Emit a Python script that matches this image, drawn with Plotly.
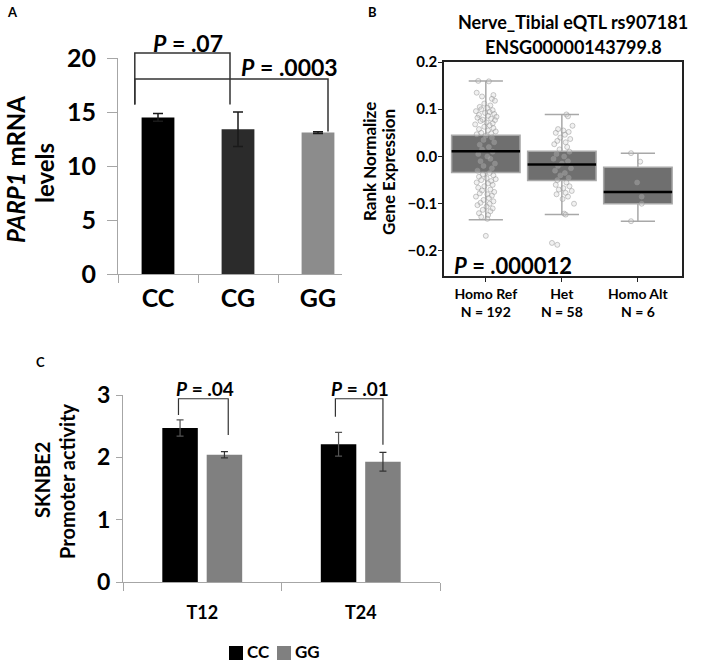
import plotly.graph_objects as go

W, H = 709, 663
FONT = "Lato, Open Sans, sans-serif"

# ---------------- Panel A data ----------------
a_categories = ["CC", "CG", "GG"]
a_values = [14.5, 13.4, 13.1]
a_errors = [0.35, 1.6, 0.08]
a_colors = ["#000000", "#2b2b2b", "#8c8c8c"]
a_yticks = [0, 5, 10, 15, 20]

# ---------------- Panel B data ----------------
b_groups = ["Homo Ref<br>N = 192", "Het<br>N = 58", "Homo Alt<br>N = 6"]
b_q1 = [-0.034, -0.051, -0.100]
b_median = [0.011, -0.017, -0.075]
b_q3 = [0.045, 0.011, -0.023]
b_lower = [-0.134, -0.123, -0.137]
b_upper = [0.160, 0.089, 0.007]
b_yticks = [-0.2, -0.1, 0.0, 0.1, 0.2]
b_yticktext = ["\u22120.2", "\u22120.1", "0.0", "0.1", "0.2"]

ref_y = [0.160, 0.159, 0.135, 0.130, 0.127, 0.122, 0.118, 0.112, 0.108, 0.105,
         0.103, 0.100, 0.098, 0.096, 0.094, 0.092, 0.090, 0.088, 0.086, 0.084,
         0.082, 0.080, 0.078, 0.077, 0.075, 0.072, 0.070, 0.068, 0.066, 0.063,
         0.060, 0.058, 0.055, 0.053, 0.050, 0.049, 0.047, 0.044, 0.040, 0.035,
         0.030, 0.025, 0.020, 0.015, 0.010, 0.005, 0.000, -0.005, -0.010, -0.015,
         -0.020, -0.025, -0.030, -0.035, -0.038, -0.040, -0.043, -0.046, -0.048, -0.050,
         -0.052, -0.055, -0.057, -0.060, -0.063, -0.066, -0.070, -0.072, -0.075, -0.078,
         -0.080, -0.083, -0.085, -0.088, -0.092, -0.095, -0.098, -0.100, -0.103, -0.106,
         -0.110, -0.113, -0.116, -0.120, -0.124, -0.128, -0.132, -0.168]
ref_dx = [-0.10, 0.04, -0.12, 0.10, -0.05, 0.08, 0.12, -0.02, 0.06, -0.08,
          0.02, -0.06, 0.09, -0.13, 0.05, -0.01, 0.11, -0.09, 0.03, 0.14,
          -0.11, 0.07, -0.04, 0.12, -0.07, 0.01, 0.09, -0.14, 0.05, -0.02,
          0.10, -0.09, 0.03, 0.13, -0.06, 0.07, -0.12, 0.00, 0.08, -0.03,
          0.11, -0.08, 0.04, -0.05, 0.09, -0.10, 0.02, 0.06, -0.07, 0.12,
          -0.03, 0.08, -0.11, 0.05, -0.04, 0.10, -0.09, 0.01, 0.13, -0.06,
          0.07, -0.12, 0.03, 0.09, -0.02, -0.10, 0.06, -0.05, 0.11, -0.08,
          0.02, 0.08, -0.13, 0.04, -0.03, 0.10, -0.07, 0.05, -0.11, 0.01,
          0.09, -0.04, 0.06, -0.09, 0.03, -0.06, 0.02, 0.00]
het_y = [0.089, 0.085, 0.065, 0.058, 0.055, 0.052, 0.050, 0.046, 0.040, 0.037,
         0.033, 0.030, 0.026, 0.020, 0.015, 0.010, 0.005, 0.000, -0.005, -0.010,
         -0.015, -0.020, -0.025, -0.030, -0.035, -0.040, -0.045, -0.050, -0.055, -0.060,
         -0.063, -0.067, -0.070, -0.073, -0.077, -0.080, -0.085, -0.090, -0.100, -0.121,
         -0.123, -0.183, -0.187]
het_dx = [0.06, 0.08, 0.14, -0.05, 0.02, 0.09, -0.08, 0.04, -0.02, 0.11,
          -0.06, 0.05, -0.10, 0.07, -0.03, 0.10, -0.07, 0.03, -0.11, 0.08,
          0.00, -0.05, 0.12, -0.09, 0.04, -0.02, 0.09, -0.06, 0.06, -0.08,
          0.10, 0.02, -0.04, 0.13, 0.05, -0.07, 0.08, 0.01, 0.16, 0.03,
          0.05, -0.13, -0.06]
alt_y = [0.007, -0.011, -0.055, -0.085, -0.100, -0.137]
alt_dx = [-0.09, 0.03, -0.01, 0.05, 0.05, -0.09]

# ---------------- Panel C data ----------------
c_categories = ["T12", "T24"]
c_series = ["CC", "GG"]
c_colors = ["#000000", "#808080"]
c_cc = [2.47, 2.21]
c_cc_err = [0.13, 0.19]
c_gg = [2.04, 1.93]
c_gg_err = [0.05, 0.15]
c_yticks = [0, 1, 2, 3]

# ---------------- axes geometry ----------------
def px_x(p):
    return p / W

def px_y(p):
    return 1 - p / H

A_XDOM = [px_x(118), px_x(342)]
A_YDOM = [px_y(274), px_y(58)]
A_XR = [-0.5, 2.3]
A_YR = [0, 20]
B_XDOM = [px_x(444), px_x(682)]
B_YDOM = [px_y(276), px_y(62)]
B_XR = [-0.55, 2.58]
B_YR = [-0.253, 0.2]
C_XDOM = [px_x(123), px_x(440)]
C_YDOM = [px_y(582), px_y(395)]
C_XR = [-0.5, 1.5]
C_YR = [0, 3]


def to_paper(dom, rng, v):
    return dom[0] + (v - rng[0]) / (rng[1] - rng[0]) * (dom[1] - dom[0])


fig = go.Figure()

fig.add_trace(go.Bar(
    x=a_categories, y=a_values, width=0.41,
    marker=dict(color=a_colors, line=dict(width=0)),
    error_y=dict(type="data", array=a_errors, color="#1a1a1a", thickness=1.5, width=5),
    xaxis="x", yaxis="y", showlegend=False))

for i in range(3):
    fig.add_trace(go.Box(
        x=[i], q1=[b_q1[i]], median=[b_median[i]], q3=[b_q3[i]],
        lowerfence=[b_lower[i]], upperfence=[b_upper[i]],
        orientation="v", width=0.9, whiskerwidth=0.5,
        fillcolor="#6f6f6f", line=dict(color="#a8a8a8", width=1.5),
        boxpoints=False, xaxis="x2", yaxis="y2", showlegend=False,
        hoverinfo="skip"))

pts_x = ([0 + d for d in ref_dx] + [1 + d for d in het_dx] + [2 + d for d in alt_dx])
pts_y = ref_y + het_y + alt_y
fig.add_trace(go.Scatter(
    x=pts_x, y=pts_y, mode="markers",
    marker=dict(size=5, color="rgba(210,210,210,0.3)",
                line=dict(color="rgba(150,150,150,0.5)", width=1)),
    xaxis="x2", yaxis="y2", showlegend=False, hoverinfo="skip"))

for i in range(3):
    fig.add_trace(go.Scatter(
        x=[i - 0.45, i + 0.45], y=[b_median[i], b_median[i]], mode="lines",
        line=dict(color="#000000", width=2.5),
        xaxis="x2", yaxis="y2", showlegend=False, hoverinfo="skip"))

fig.add_trace(go.Bar(
    name=c_series[0], x=c_categories, y=c_cc, marker=dict(color=c_colors[0], line=dict(width=0)),
    error_y=dict(type="data", array=c_cc_err, color="#555555", thickness=1.2, width=3.5),
    xaxis="x3", yaxis="y3", showlegend=False))
fig.add_trace(go.Bar(
    name=c_series[1], x=c_categories, y=c_gg, marker=dict(color=c_colors[1], line=dict(width=0)),
    error_y=dict(type="data", array=c_gg_err, color="#333333", thickness=1.2, width=3.5),
    xaxis="x3", yaxis="y3", showlegend=False))

shapes = []

def bracket(xdom, xr, ydom, yr, x0, x1, ytop, yl, yrr, color="#333333", w=1.5):
    X0 = to_paper(xdom, xr, x0)
    X1 = to_paper(xdom, xr, x1)
    YT = to_paper(ydom, yr, ytop)
    YL = to_paper(ydom, yr, yl)
    YR = to_paper(ydom, yr, yrr)
    path = f"M {X0},{YL} L {X0},{YT} L {X1},{YT} L {X1},{YR}"
    shapes.append(dict(type="path", path=path, xref="paper", yref="paper",
                       line=dict(color=color, width=w)))

bracket(A_XDOM, A_XR, A_YDOM, A_YR, -0.29, 0.90, 20.46, 15.7, 15.7)
bracket(A_XDOM, A_XR, A_YDOM, A_YR, -0.29, 2.125, 18.06, 15.7, 13.2)
bracket(C_XDOM, C_XR, C_YDOM, C_YR, -0.15, 0.164, 2.94, 2.68, 2.36, w=1.2)
bracket(C_XDOM, C_XR, C_YDOM, C_YR, 0.84, 1.14, 2.94, 2.65, 2.20, w=1.2)

ann = []

def txt(text, x, y, size, angle=0, xanchor="center", yanchor="middle", family=FONT):
    ann.append(dict(text=text, x=x, y=y, xref="paper", yref="paper", showarrow=False,
                    textangle=angle, xanchor=xanchor, yanchor=yanchor,
                    font=dict(family=family, size=size, color="#000000", weight="bold")))

# legend for panel C (square swatch + label)
leg_x = [229, 277]
for name, col, lx in zip(c_series, c_colors, leg_x):
    shapes.append(dict(type="rect", xref="paper", yref="paper",
                       x0=px_x(lx), x1=px_x(lx + 14), y0=px_y(660), y1=px_y(646),
                       fillcolor=col, line=dict(width=0)))
    txt(name, px_x(lx + 16), px_y(651), 17, xanchor="left")

txt("A", px_x(5), px_y(12), 13, xanchor="left")
txt("B", px_x(366), px_y(12), 13, xanchor="left")
txt("C", px_x(34), px_y(362), 13, xanchor="left")

txt("<i>P</i> = .07", to_paper(A_XDOM, A_XR, 0.375), to_paper(A_YDOM, A_YR, 21.4), 23)
txt("<i>P</i> = .0003", to_paper(A_XDOM, A_XR, 1.64), to_paper(A_YDOM, A_YR, 19.2), 23)
txt("<i>PARP1</i> mRNA", px_x(16), px_y(170), 24, angle=-90)
txt("levels", px_x(45), px_y(173), 24, angle=-90)

txt("Nerve_Tibial eQTL rs907181", px_x(573), px_y(22), 18)
txt("ENSG00000143799.8", px_x(573), px_y(47), 18)
txt("Rank Normalize", px_x(369), px_y(162), 17, angle=-90)
txt("Gene Expression", px_x(389), px_y(172), 17, angle=-90)
txt("<i>P</i> = .000012", px_x(452), px_y(265), 22, xanchor="left")

txt("<i>P</i> = .04", to_paper(C_XDOM, C_XR, 0.02), to_paper(C_YDOM, C_YR, 3.11), 19)
txt("<i>P</i> = .01", to_paper(C_XDOM, C_XR, 0.995), to_paper(C_YDOM, C_YR, 3.11), 19)
txt("SKNBE2", px_x(42), px_y(480), 20, angle=-90)
txt("Promoter activity", px_x(67), px_y(481), 20, angle=-90)

gray_axis = "#a6a6a6"

fig.update_layout(
    width=W, height=H, margin=dict(l=0, r=0, t=0, b=0, autoexpand=False),
    paper_bgcolor="white", plot_bgcolor="white",
    font=dict(family=FONT, color="#000000"),
    barmode="group", bargap=0.44, bargroupgap=0.2,
    shapes=shapes, annotations=ann,
    showlegend=False,
    xaxis=dict(domain=A_XDOM, range=A_XR, type="category", anchor="y",
               showline=True, linecolor=gray_axis, linewidth=1, showgrid=False, zeroline=False,
               ticks="outside", tickson="boundaries", ticklen=8, tickcolor=gray_axis,
               tickfont=dict(family=FONT, size=25, weight="bold"), ticklabelstandoff=2),
    yaxis=dict(domain=A_YDOM, range=A_YR, anchor="x",
               showline=True, linecolor=gray_axis, linewidth=1, showgrid=False, zeroline=False,
               ticks="outside", ticklen=10, tickcolor=gray_axis, tickvals=a_yticks,
               tickfont=dict(family=FONT, size=25, weight="bold"), ticklabelstandoff=6),
    xaxis2=dict(domain=B_XDOM, range=B_XR, anchor="y2",
                showline=True, mirror=True, linecolor="#222222", linewidth=1.5,
                showgrid=False, zeroline=False, ticks="outside", ticklen=4, tickcolor="#222222",
                tickvals=[0, 1, 2], ticktext=b_groups,
                tickfont=dict(family=FONT, size=14, weight="bold"), ticklabelstandoff=0),
    yaxis2=dict(domain=B_YDOM, range=B_YR, anchor="x2",
                showline=True, mirror=True, linecolor="#222222", linewidth=1.5,
                showgrid=False, zeroline=False, ticks="outside", ticklen=4, tickcolor="#222222",
                tickvals=b_yticks, ticktext=b_yticktext,
                tickfont=dict(family=FONT, size=15, weight="bold"), ticklabelstandoff=-2),
    xaxis3=dict(domain=C_XDOM, range=C_XR, type="category", anchor="y3",
                showline=True, linecolor=gray_axis, linewidth=1, showgrid=False, zeroline=False,
                ticks="outside", tickson="boundaries", ticklen=8, tickcolor=gray_axis,
                tickfont=dict(family=FONT, size=18, weight="bold"), ticklabelstandoff=14),
    yaxis3=dict(domain=C_YDOM, range=C_YR, anchor="x3",
                showline=True, linecolor=gray_axis, linewidth=1, showgrid=False, zeroline=False,
                ticks="outside", ticklen=6, tickcolor=gray_axis, tickvals=c_yticks,
                tickfont=dict(family=FONT, size=23, weight="bold"), ticklabelstandoff=1),
)

fig.write_html("out.html", config={"displayModeBar": False},
               post_script="document.body.style.margin='0px';")
